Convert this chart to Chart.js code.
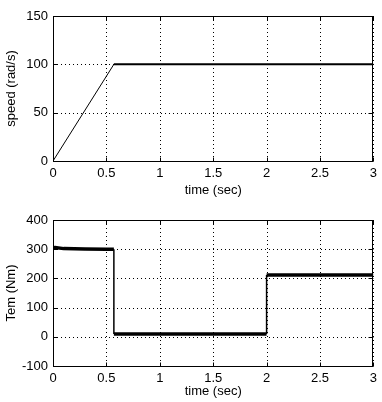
<!DOCTYPE html>
<html><head><meta charset="utf-8">
<script src="https://cdn.jsdelivr.net/npm/chart.js@4"></script>
<style>
html,body{margin:0;padding:0;background:#fff;width:382px;height:402px;overflow:hidden}
.c{position:absolute;left:0;width:382px}
</style></head><body>
<div class="c" style="top:0;height:201px"><canvas id="c1" width="382" height="201"></canvas></div>
<div class="c" style="top:201px;height:201px"><canvas id="c2" width="382" height="201"></canvas></div>
<script>
// Data
const speedTime  = [0, 0.57, 3];
const speedValue = [0, 100, 100];
const temTime  = [0, 0.002, 0.02, 0.1, 0.3, 0.5, 0.57, 0.57, 1.0, 1.5, 2.0, 2.0, 2.5, 3];
const temValue = [258, 305, 306, 302, 301, 300, 300, 10, 10, 10, 10, 212, 212, 212];
const xTicks = [0, 0.5, 1, 1.5, 2, 2.5, 3];
const speedTicks = [0, 50, 100, 150];
const temTicks = [-100, 0, 100, 200, 300, 400];

const FONT = {family: "'Liberation Sans', Arial, sans-serif", size: 13};
const gridPlugin = {
  id: 'dotgrid',
  beforeDatasetsDraw(chart) {
    const {ctx, chartArea: a} = chart;
    const xs = chart.scales.x, ys = chart.scales.y;
    ctx.save();
    ctx.strokeStyle = '#000'; ctx.lineWidth = 1; ctx.setLineDash([1, 3]);
    ctx.beginPath();
    xs.ticks.forEach(t => { const x = Math.round(xs.getPixelForValue(t.value)) + 0.5;
      ctx.moveTo(x, a.top); ctx.lineTo(x, a.bottom); });
    ys.ticks.forEach(t => { const y = Math.round(ys.getPixelForValue(t.value)) + 0.5;
      ctx.moveTo(a.left, y); ctx.lineTo(a.right, y); });
    ctx.stroke();
    ctx.restore();
  },
  afterDraw(chart) {
    const {ctx, chartArea: a} = chart;
    const xs = chart.scales.x, ys = chart.scales.y;
    ctx.save();
    ctx.strokeStyle = '#000'; ctx.lineWidth = 1;
    const L = Math.round(a.left) + 0.5, R = Math.round(a.right) - 0.5, T = Math.round(a.top) + 0.5, B = Math.round(a.bottom) + 0.5;
    ctx.strokeRect(L, T, R - L, B - T);
    ctx.beginPath();
    xs.ticks.forEach(t => { const x = Math.round(xs.getPixelForValue(t.value)) + 0.5;
      ctx.moveTo(x, B); ctx.lineTo(x, B - 4); ctx.moveTo(x, T); ctx.lineTo(x, T + 4); });
    ys.ticks.forEach(t => { const y = Math.round(ys.getPixelForValue(t.value)) + 0.5;
      ctx.moveTo(L, y); ctx.lineTo(L + 4, y); ctx.moveTo(R, y); ctx.lineTo(R - 4, y); });
    ctx.stroke();
    ctx.restore();
  }
};

function makeChart(id, xs, ys, yTicks, yTitle, pad, xHeight, thin, thick) {
  const pts = xs.map((x, i) => ({x, y: ys[i]}));
  return new Chart(document.getElementById(id), {
    type: 'line',
    data: {datasets: [{data: pts, borderColor: '#000', pointRadius: 0, tension: 0, borderWidth: thin,
      segment: {borderWidth: c => (Math.abs(c.p1.parsed.y - c.p0.parsed.y) < 20 ? thick : thin)}}]},
    options: {
      responsive: false, animation: false, devicePixelRatio: 1,
      layout: {padding: {top: pad, right: 7, left: 0, bottom: 0}},
      plugins: {legend: {display: false}, tooltip: {enabled: false}},
      scales: {
        x: {type: 'linear', min: 0, max: 3,
          afterBuildTicks: s => { s.ticks = xTicks.map(v => ({value: v})); },
          afterFit: s => { s.height = xHeight; },
          ticks: {color: '#000', font: FONT, padding: 5, maxRotation: 0, autoSkip: false, callback: v => String(v)},
          grid: {display: false, drawTicks: false},
          border: {display: false},
          title: {display: true, text: 'time (sec)', color: '#000', font: FONT, padding: {top: 0, bottom: 3}}},
        y: {type: 'linear', min: yTicks[0], max: yTicks[yTicks.length - 1],
          afterBuildTicks: s => { s.ticks = yTicks.map(v => ({value: v})); },
          afterFit: s => { s.width = 53; },
          ticks: {color: '#000', font: FONT, padding: 5, autoSkip: false, callback: v => String(v)},
          grid: {display: false, drawTicks: false},
          border: {display: false},
          title: {display: true, text: yTitle, color: '#000', font: FONT, padding: {top: 4, bottom: 0}}}
      }
    },
    plugins: [gridPlugin]
  });
}
makeChart('c1', speedTime, speedValue, speedTicks, 'speed (rad/s)', 16, 40, 1, 2);
makeChart('c2', temTime, temValue, temTicks, 'Tem (Nm)', 19, 36, 1.5, 3.5);
</script>
</body></html>
